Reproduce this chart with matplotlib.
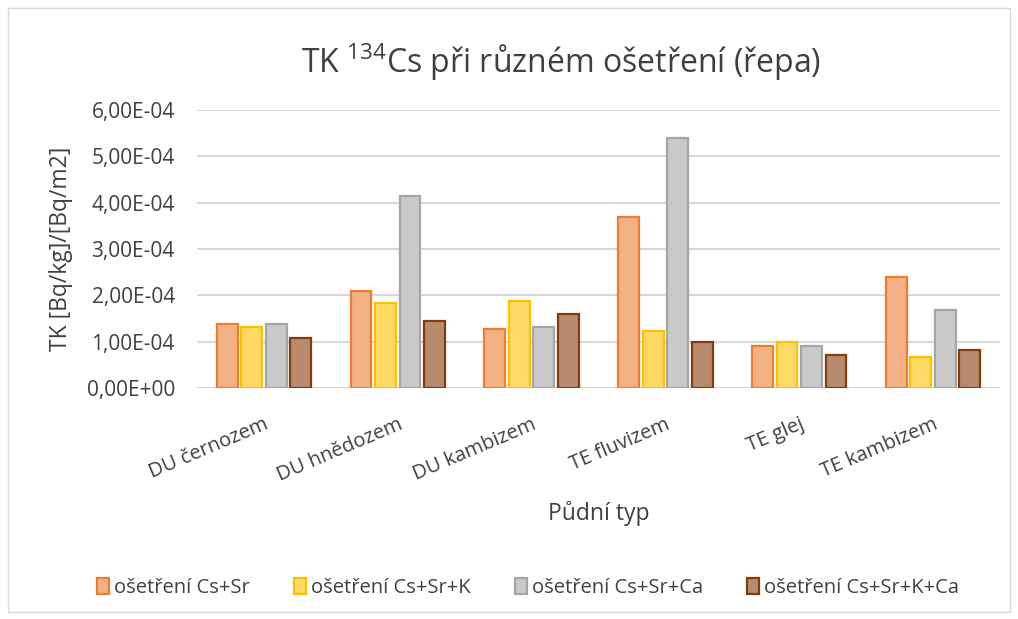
import matplotlib
matplotlib.use("Agg")
import matplotlib.pyplot as plt
import numpy as np
from matplotlib.ticker import FuncFormatter, MultipleLocator
from matplotlib.patches import Rectangle

plt.rcParams['font.family'] = ['Open Sans', 'DejaVu Sans']
plt.rcParams['mathtext.fontset'] = 'custom'
plt.rcParams['mathtext.rm'] = 'Open Sans'

categories = ["DU černozem", "DU hnědozem", "DU kambizem", "TE fluvizem", "TE glej", "TE kambizem"]
series_names = ["ošetření Cs+Sr", "ošetření Cs+Sr+K", "ošetření Cs+Sr+Ca", "ošetření Cs+Sr+K+Ca"]
cs_sr = [1.38e-4, 2.10e-4, 1.27e-4, 3.69e-4, 0.90e-4, 2.40e-4]
cs_sr_k = [1.32e-4, 1.83e-4, 1.88e-4, 1.23e-4, 0.99e-4, 0.66e-4]
cs_sr_ca = [1.38e-4, 4.14e-4, 1.32e-4, 5.39e-4, 0.90e-4, 1.68e-4]
cs_sr_k_ca = [1.08e-4, 1.44e-4, 1.60e-4, 0.99e-4, 0.72e-4, 0.83e-4]
values = [cs_sr, cs_sr_k, cs_sr_ca, cs_sr_k_ca]

faces = ["#F4B183", "#FFD966", "#C9C9C9", "#B88B6E"]
edges = ["#ED7D31", "#FFC000", "#A5A5A5", "#843C0C"]
text_color = '#404040'

fig = plt.figure(figsize=(10.18, 6.19), dpi=100)
ax = fig.add_axes([197/1018, 1-388/619, 803/1018, 278/619])

x = np.arange(len(categories))
step = 0.183
width = 0.155
for i, (vals, fc, ec, name) in enumerate(zip(values, faces, edges, series_names)):
    ax.bar(x + (i - 1.5) * step, vals, width, color=fc, edgecolor=ec, linewidth=1.6,
           label=name, zorder=3)

ax.set_xlim(-0.5, len(categories) - 0.5)
ax.set_ylim(0, 6e-4)
ax.yaxis.set_major_locator(MultipleLocator(1e-4))
ax.yaxis.set_major_formatter(FuncFormatter(lambda v, p: f"{v:.2E}".replace('.', ',')))
ax.grid(axis='y', color='#D9D9D9', linewidth=1.5, zorder=0)
for s in ax.spines.values():
    s.set_visible(False)
ax.tick_params(axis='both', length=0, colors=text_color)
ax.tick_params(axis='y', pad=16, labelsize=15)
ax.set_xticks(x)
ax.set_xticklabels(categories, rotation=23, ha='right', rotation_mode='anchor', fontsize=14.5)
ax.tick_params(axis='x', pad=19)

ax.set_ylabel("TK [Bq/kg]/[Bq/m2]", fontsize=16.5, color=text_color)
ax.yaxis.set_label_coords(-(197-73)/803, 0.5)
fig.text(599/1018, 1-514/619, "Půdní typ", ha='center', va='center', fontsize=16.5, color=text_color)
fig.text(561/1018, 1-62/619, r"TK $\mathregular{^{134}}$Cs při různém ošetření (řepa)",
         ha='center', va='center', fontsize=23, color=text_color)

leg = fig.legend(loc='center', bbox_to_anchor=(528/1018, 1-588/619), ncol=4, frameon=False,
                 fontsize=14.5, handlelength=0.6, handleheight=0.8, handletextpad=0.25,
                 columnspacing=2.2)
for t in leg.get_texts():
    t.set_color(text_color)

fig.patches.append(Rectangle((8/1018, 1-612/619), 1002/1018, 604/619, transform=fig.transFigure,
                             fill=False, edgecolor='#D9D9D9', linewidth=1))

fig.savefig("out.png", dpi=100)
